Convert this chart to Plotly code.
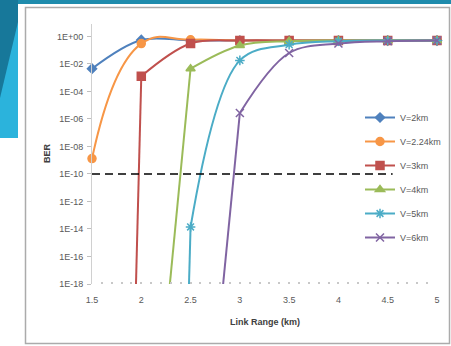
import plotly.graph_objects as go

# ---------------- data ----------------
link_range = [1.5, 2, 2.5, 3, 3.5, 4, 4.5, 5]

ber_v2 = [4.5e-3, 0.55, 0.5, 0.5, 0.5, 0.5, 0.5, 0.5]
ber_v224 = [1.3e-9, 0.3, 0.57, 0.5, 0.5, 0.5, 0.5, 0.5]
ber_v3 = [1e-143, 1.26e-3, 0.3, 0.5, 0.5, 0.5, 0.5, 0.5]
ber_v4 = [None, 2.5e-40, 4.5e-3, 0.22, 0.45, 0.5, 0.5, 0.5]
ber_v5 = [None, 1.6e-144, 1.4e-14, 0.018, 0.25, 0.45, 0.5, 0.5]
ber_v6 = [None, None, 6e-43, 2.7e-6, 0.062, 0.3, 0.45, 0.5]

series_names = ["V=2km", "V=2.24km", "V=3km", "V=4km", "V=5km", "V=6km"]
series_values = [ber_v2, ber_v224, ber_v3, ber_v4, ber_v5, ber_v6]

threshold_x = [1.5, 4.55]
threshold_ber = [1e-10, 1e-10]

x_ticks = [1.5, 2, 2.5, 3, 3.5, 4, 4.5, 5]
x_ticktext = ["1.5", "2", "2.5", "3", "3.5", "4", "4.5", "5"]
y_tickvals = [1e0, 1e-2, 1e-4, 1e-6, 1e-8, 1e-10, 1e-12, 1e-14, 1e-16, 1e-18]
y_ticktext = ["1E+00", "1E-02", "1E-04", "1E-06", "1E-08", "1E-10",
              "1E-12", "1E-14", "1E-16", "1E-18"]

# ---------------- style ----------------
colors = ["#4F81BD", "#F79646", "#C0504D", "#9BBB59", "#4BACC6", "#8064A2"]
symbols = ["diamond", "circle", "square", "triangle-up", "asterisk-open", "x-thin-open"]
msizes = [7, 8, 8, 8, 8, 8]
smooth = [1.0, 1.3, 1.0, 1.0, 1.0, 1.0]
FONT = "Liberation Sans, Arial, sans-serif"

W, H = 451, 346
ML, MR, MT, MB = 92, 14, 24, 62
PW, PH = W - ML - MR, H - MT - MB


def px_x(p):
    return (p - ML) / PW


def px_y(p):
    return (H - MB - p) / PH


fig = go.Figure()

# steep drops (segment from the first visible point to the off-scale point)
for name, vals, c in zip(series_names, series_values, colors):
    pts = [(x, v) for x, v in zip(link_range, vals) if v is not None]
    visible = [(x, v) for x, v in pts if v > 1e-18]
    hidden = [(x, v) for x, v in pts if v <= 1e-18]
    if hidden:
        seg = hidden + visible[:1]
        fig.add_trace(go.Scatter(
            x=[p[0] for p in seg], y=[p[1] for p in seg], mode="lines",
            line=dict(color=c, width=2), showlegend=False, hoverinfo="skip",
            legendgroup=name))

for i, (name, vals, c) in enumerate(zip(series_names, series_values, colors)):
    pts = [(x, v) for x, v in zip(link_range, vals) if v is not None and v > 1e-18]
    fig.add_trace(go.Scatter(
        x=[p[0] for p in pts], y=[p[1] for p in pts], mode="lines+markers",
        name=name, legendgroup=name,
        line=dict(color=c, width=2, shape="spline", smoothing=smooth[i]),
        marker=dict(symbol=symbols[i], size=msizes[i], color=c,
                    line=dict(color=c, width=1.5)),
        cliponaxis=False))

fig.add_trace(go.Scatter(
    x=threshold_x, y=threshold_ber, mode="lines",
    line=dict(color="black", width=1.5, dash="8px,5px"),
    showlegend=False, hoverinfo="skip"))

shapes = []
# decorative background
shapes.append(dict(type="rect", xref="paper", yref="paper",
                   x0=px_x(18), x1=px_x(W), y0=px_y(0), y1=px_y(4),
                   fillcolor="#1f8cad", line=dict(width=0), layer="below"))
shapes.append(dict(type="rect", xref="paper", yref="paper",
                   x0=px_x(0), x1=px_x(18), y0=px_y(0), y1=px_y(138),
                   fillcolor="#2bb3dc", line=dict(width=0), layer="below"))
path = "M {} {} L {} {} L {} {} L {} {} Z".format(
    px_x(0), px_y(0), px_x(18), px_y(0), px_x(18), px_y(22), px_x(0), px_y(98))
shapes.append(dict(type="path", xref="paper", yref="paper", path=path,
                   fillcolor="#17789a", line=dict(width=0), layer="below"))
shapes.append(dict(type="rect", xref="paper", yref="paper",
                   x0=px_x(25.5), x1=px_x(449.5), y0=px_y(7.5), y1=px_y(343.5),
                   fillcolor="rgba(0,0,0,0)", line=dict(color="#ababab", width=1.5),
                   layer="below"))

annotations = [
    dict(text="<b>BER</b>", xref="paper", yref="paper", x=px_x(47), y=px_y(153),
         xanchor="center", yanchor="middle",
         textangle=-90, showarrow=False, font=dict(family=FONT, size=9, color="#404040")),
    dict(text="<b>Link Range (km)</b>", xref="paper", yref="paper",
         x=px_x(265), y=px_y(322), xanchor="center", yanchor="middle", showarrow=False,
         font=dict(family=FONT, size=9, color="#404040")),
]

fig.update_layout(
    width=W, height=H,
    margin=dict(l=ML, r=MR, t=MT, b=MB, autoexpand=False),
    paper_bgcolor="white", plot_bgcolor="white",
    shapes=shapes, annotations=annotations,
    showlegend=True,
    legend=dict(x=px_x(360), y=px_y(103), xanchor="left", yanchor="top",
                font=dict(family=FONT, size=9, color="#595959"),
                bgcolor="rgba(0,0,0,0)", tracegroupgap=5, traceorder="grouped",
                itemwidth=30),
    xaxis=dict(range=[1.5, 5], tickvals=x_ticks, ticktext=x_ticktext,
               showgrid=False, zeroline=False, showline=False,
               ticks="inside", ticklen=2, tickwidth=1.5, tickcolor="#c8c8c8",
               ticklabelstandoff=9,
               minor=dict(dtick=0.1, ticks="inside", ticklen=2, tickwidth=1.5,
                          tickcolor="#c8c8c8", showgrid=False),
               tickfont=dict(family=FONT, size=9, color="#595959")),
    yaxis=dict(type="log", range=[-18, 0.9], tickvals=y_tickvals, ticktext=y_ticktext,
               showgrid=False, zeroline=False, showline=True, linecolor="#d0d0d0",
               linewidth=1, ticks="outside", ticklen=4, tickcolor="#bfbfbf",
               ticklabelstandoff=2,
               tickfont=dict(family=FONT, size=9, color="#595959")),
)

fig.write_html("out.html")
